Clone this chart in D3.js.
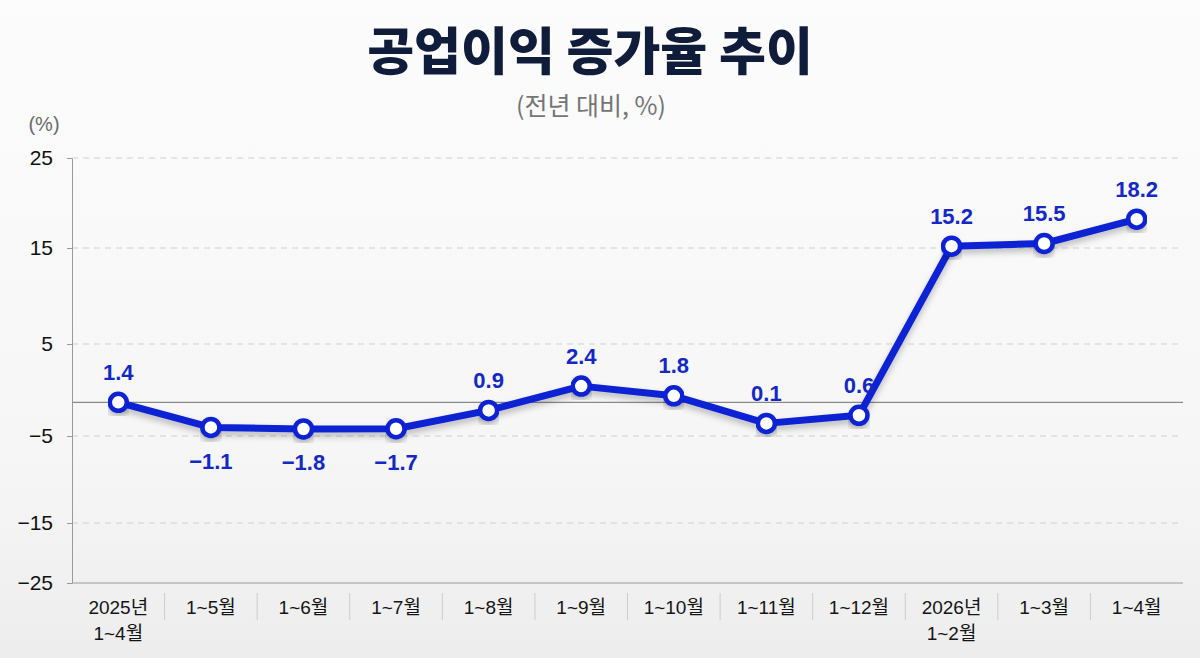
<!DOCTYPE html>
<html>
<head>
<meta charset="utf-8">
<script src="https://cdn.jsdelivr.net/npm/d3@7"></script>
<style>
  html, body { margin: 0; padding: 0; }
  body { width: 1200px; height: 658px; overflow: hidden; }
  svg text { font-family: "Liberation Sans", "Noto Sans CJK KR", sans-serif; }
</style>
</head>
<body>
<div id="chart"></div>
<script>
// chart data
var categories = ["2025년\n1~4월", "1~5월", "1~6월", "1~7월", "1~8월", "1~9월",
                  "1~10월", "1~11월", "1~12월", "2026년\n1~2월", "1~3월", "1~4월"];
var values = [1.4, -1.1, -1.8, -1.7, 0.9, 2.4, 1.8, 0.1, 0.6, 15.2, 15.5, 18.2];
var yTicks = [25, 15, 5, -5, -15, -25];

var width = 1200, height = 658;
var plot = {left: 72, right: 1183, top: 158, bottom: 583};

var svg = d3.select("#chart").append("svg")
    .attr("width", width)
    .attr("height", height);

var defs = svg.append("defs");
var bg = defs.append("linearGradient").attr("id", "bg")
    .attr("x1", 0).attr("y1", 0).attr("x2", 0).attr("y2", 1);
bg.append("stop").attr("offset", "0%").attr("stop-color", "#fcfcfc");
bg.append("stop").attr("offset", "70%").attr("stop-color", "#f6f6f6");
bg.append("stop").attr("offset", "100%").attr("stop-color", "#ededed");

var shadow = defs.append("filter").attr("id", "shadow")
    .attr("x", "-10%").attr("y", "-20%").attr("width", "120%").attr("height", "150%");
shadow.append("feDropShadow")
    .attr("dx", 0).attr("dy", 4).attr("stdDeviation", 3)
    .attr("flood-color", "#000").attr("flood-opacity", 0.25);

svg.append("rect").attr("width", width).attr("height", height).attr("fill", "url(#bg)");

// title
svg.append("text")
    .attr("x", 590).attr("y", 48)
    .attr("text-anchor", "middle").attr("dominant-baseline", "central")
    .style("font-family", "'Noto Sans CJK KR', sans-serif")
    .style("font-size", "51px").style("font-weight", 900)
    .attr("fill", "#0f1c3a")
    .text("공업이익 증가율 추이");

svg.append("text")
    .attr("x", 591).attr("y", 104)
    .attr("text-anchor", "middle").attr("dominant-baseline", "central")
    .style("font-family", "'Noto Sans CJK KR', sans-serif")
    .style("font-size", "25px")
    .attr("fill", "#757575")
    .text("(전년 대비, %)");

svg.append("text")
    .attr("x", 44).attr("y", 124)
    .attr("text-anchor", "middle").attr("dominant-baseline", "central")
    .style("font-size", "20px")
    .attr("fill", "#6b6b6b")
    .text("(%)");

// scales (value axis is broken at each tick, as in the source chart)
var x = d3.scaleBand()
    .domain(categories)
    .range([plot.left, plot.right]);

var y = d3.scaleLinear()
    .domain([-25, -15, -5, 0, 5, 15, 25])
    .range([583, 523, 436, 425, 344, 248, 158]);

function cx(d) { return x(d) + x.bandwidth() / 2; }

// grid lines
svg.append("g").selectAll("line")
    .data(yTicks.filter(function(t) { return t > -25; }))
    .enter().append("line")
    .attr("x1", plot.left).attr("x2", plot.right)
    .attr("y1", function(d) { return y(d); })
    .attr("y2", function(d) { return y(d); })
    .attr("stroke", "#cfcfcf")
    .attr("stroke-dasharray", "6,5");

// reference line at the 2025 1~4월 level
svg.append("line")
    .attr("x1", plot.left).attr("x2", plot.right)
    .attr("y1", y(values[0])).attr("y2", y(values[0]))
    .attr("stroke", "#6f6f6f").attr("stroke-width", 1);

// y axis
var yAxis = svg.append("g")
    .attr("transform", "translate(" + plot.left + ",0)")
    .call(d3.axisLeft(y).tickValues(yTicks).tickSize(5).tickSizeOuter(0).tickPadding(14));
yAxis.select(".domain").attr("stroke", "#9a9a9a");
yAxis.selectAll(".tick line").attr("stroke", "#9a9a9a");
yAxis.selectAll(".tick text")
    .style("font-size", "21px")
    .style("font-family", "'Liberation Sans', sans-serif")
    .attr("fill", "#111");

// x axis line
svg.append("line")
    .attr("x1", plot.left).attr("x2", plot.right)
    .attr("y1", y(-25)).attr("y2", y(-25))
    .attr("stroke", "#9a9a9a").attr("stroke-width", 1);

// category separators
svg.append("g").selectAll("line")
    .data(categories.slice(1))
    .enter().append("line")
    .attr("x1", function(d) { return x(d); })
    .attr("x2", function(d) { return x(d); })
    .attr("y1", y(-25) + 10).attr("y2", y(-25) + 37)
    .attr("stroke", "#cccccc");

// category labels
var xLabels = svg.append("g").selectAll("text")
    .data(categories)
    .enter().append("text")
    .attr("x", cx)
    .attr("y", y(-25) + 24)
    .attr("text-anchor", "middle")
    .style("font-size", "19px")
    .attr("fill", "#151515");
xLabels.each(function(d) {
    var lines = d.split("\n");
    var t = d3.select(this);
    lines.forEach(function(s, i) {
        t.append("tspan")
            .attr("x", cx(d))
            .attr("dy", i === 0 ? "0.35em" : "26px")
            .text(s);
    });
});

// line
var line = d3.line()
    .x(function(d, i) { return cx(categories[i]); })
    .y(function(d) { return y(d); });

svg.append("path")
    .datum(values)
    .attr("d", line)
    .attr("fill", "none")
    .attr("stroke", "#0a20d2")
    .attr("stroke-width", 7)
    .attr("stroke-linejoin", "round")
    .attr("stroke-linecap", "round")
    .attr("filter", "url(#shadow)");

svg.append("g").selectAll("circle")
    .data(values)
    .enter().append("circle")
    .attr("cx", function(d, i) { return cx(categories[i]); })
    .attr("cy", function(d) { return y(d); })
    .attr("r", 8.5)
    .attr("fill", "#ffffff")
    .attr("stroke", "#0a20d2")
    .attr("stroke-width", 4.5)
    .attr("filter", "url(#shadow)");

// value labels
var fmt = d3.format(".1f");
svg.append("g").selectAll("text")
    .data(values)
    .enter().append("text")
    .attr("x", function(d, i) { return cx(categories[i]); })
    .attr("y", function(d) { return d < 0 ? y(d) + 34 : y(d) - 30; })
    .attr("text-anchor", "middle")
    .attr("dominant-baseline", "central")
    .style("font-size", "22px")
    .style("font-weight", 700)
    .attr("fill", "#1428c4")
    .text(function(d) { return fmt(d); });
</script>
</body>
</html>
